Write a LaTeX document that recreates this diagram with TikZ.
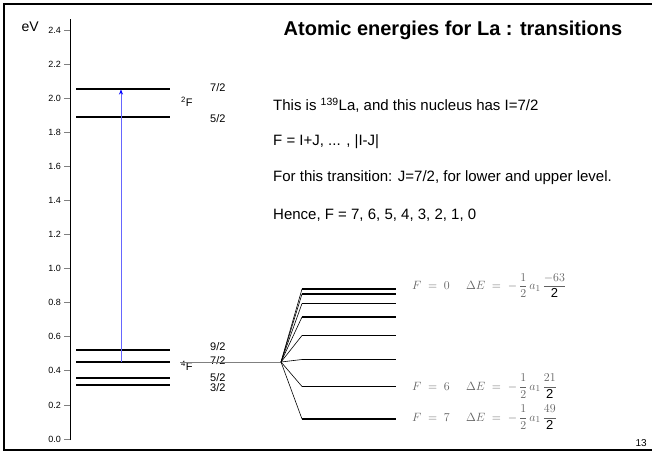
\documentclass[tikz,border=0pt]{standalone}
\usepackage{amsmath}
\usepackage[no-math]{fontspec}
\setmainfont{Liberation Sans}
\usetikzlibrary{arrows.meta}
\begin{document}
\begin{tikzpicture}[
  x=1pt, y=-1pt,
  frame/.style={line width=2.5pt},
  level/.style={line width=1.3pt},
  fanline/.style={line width=0.6pt},
  tick/.style={gray, line width=0.8pt},
  ticklab/.style={anchor=east, inner sep=0pt, font=\fontsize{9}{10}\selectfont},
  jlab/.style={anchor=west, inner sep=0pt, font=\fontsize{11}{12}\selectfont},
  body/.style={anchor=west, inner sep=0pt, font=\fontsize{15}{18}\selectfont},
  eqn/.style={anchor=base west, inner sep=0pt, text=black!62, font=\fontsize{13}{15}\selectfont},
  excite/.style={-{Stealth[length=5pt, width=4pt, color=blue]}, color=blue!60, line width=1pt}
]
  \useasboundingbox (0,0) rectangle (652,454);

  % Slide frame
  \draw[frame] (652,4) -- (4,4) -- (4,450) -- (652,450);

  % Energy axis
  \coordinate (axbot) at (70,440);
  \coordinate (axtop) at (70,19);
  \draw[line width=0.8pt] (axbot) -- (axtop);
  \foreach \lab [count=\i from 0] in {0.0,0.2,0.4,0.6,0.8,1.0,1.2,1.4,1.6,1.8,2.0,2.2,2.4} {
    \coordinate (tk\i) at (70,439-34.08*\i);
    \draw[tick] (tk\i) -- ++(-6,0);
    \node[ticklab] (tl\i) at ([xshift=-9pt]tk\i) {\lab};
  }
  \node[anchor=east, inner sep=0pt, font=\fontsize{14}{16}\selectfont] (unit) at (39,27) {eV};

  % Fine structure levels
  \foreach \name/\y in {u7/89, u5/117, l9/350, l7/362, l5/378, l3/385} {
    \coordinate (\name a) at (76,\y);
    \coordinate (\name b) at (170,\y);
    \draw[level] (\name a) -- (\name b);
  }
  \node[jlab] (ju7) at (210,88) {7/2};
  \node[jlab] (ju5) at (210,119) {5/2};
  \node[jlab] (jl9) at (210,347) {9/2};
  \node[jlab] (jl7) at (210,361) {7/2};
  \node[jlab] (jl5) at (210,378) {5/2};
  \node[jlab] (jl3) at (210,388) {3/2};
  \node[jlab] (term2F) at (181,102) {\textsuperscript{2}F};
  \node[jlab] (term4F) at (181,366) {\textsuperscript{4}F};

  % Transition
  \coordinate (trlo) at (121,362);
  \coordinate (trhi) at (121,89.5);
  \draw[excite] (trlo) -- (trhi);

  % Hyperfine splitting of the lower level
  \coordinate (hfstart) at (180,362);
  \coordinate (fan) at (281,362);
  \draw[gray, line width=0.6pt] (hfstart) -- (fan);
  \foreach \F/\y in {0/289,1/294,2/303.5,3/317,4/335.5,5/359.5,6/386.5,7/419} {
    \coordinate (hf\F) at (302,\y);
    \coordinate (hfe\F) at (396,\y);
    \draw[fanline] (fan) -- (hf\F);
    \draw[level] (hf\F) -- (hfe\F);
  }

  % Energy shifts
  \node[eqn] (eq0) at (412,289.5) {$F\;=\;0\quad\;\Delta E\;=\;-\,\dfrac{1}{2}\,a_1\,\dfrac{-63}{\mbox{\color{black}2}}$};
  \node[eqn] (eq6) at (412,390) {$F\;=\;6\quad\;\Delta E\;=\;-\,\dfrac{1}{2}\,a_1\,\dfrac{21}{\mbox{\color{black}2}}$};
  \node[eqn] (eq7) at (412,421) {$F\;=\;7\quad\;\Delta E\;=\;-\,\dfrac{1}{2}\,a_1\,\dfrac{49}{\mbox{\color{black}2}}$};

  % Text
  \node[inner sep=0pt, font=\fontsize{20}{24}\selectfont\bfseries] (title) at (453,30) {Atomic energies for La : transitions};
  \node[body] (t1) at (273,105) {This is \textsuperscript{139}La, and this nucleus has I=7/2};
  \node[body] (t2) at (273,142) {F = I+J, ... , |I-J|};
  \node[body] (t3) at (273,178) {For this transition: J=7/2, for lower and upper level.};
  \node[body] (t4) at (273,215) {Hence, F = 7, 6, 5, 4, 3, 2, 1, 0};

  \node[anchor=south east, inner sep=0pt, font=\fontsize{10}{12}\selectfont] (page) at (647,447) {13};
\end{tikzpicture}
\end{document}
